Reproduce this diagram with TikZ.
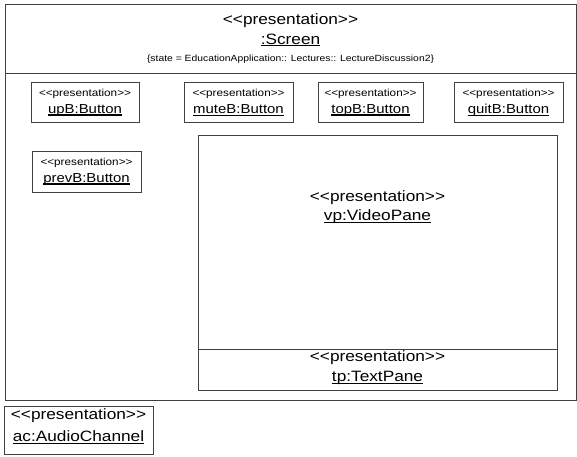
\documentclass[tikz,border=0pt]{standalone}
\usepackage{fontspec}
% Arial-width sans, slightly widened, with no << >> ligatures
\setmainfont[Ligatures=TeXOff,FakeStretch=1.15]{Liberation Sans}
% underline with a slightly heavier rule than \underline
\newcommand\myul[1]{\setbox0\hbox{#1}\rlap{\rule[-2.4pt]{\wd0}{1.1pt}}\box0}
\begin{document}
\begin{tikzpicture}[x=1pt,y=-1pt,
  frame/.style={draw=black!75,line width=1pt,inner sep=0pt,outer sep=0pt,anchor=north west},
  bigtxt/.style={font=\fontsize{15}{17}\selectfont,inner sep=0pt,text=black},
  smalltxt/.style={font=\fontsize{9}{11}\selectfont,inner sep=0pt,text=black},
  btntxt/.style={font=\fontsize{10.2}{12}\selectfont,inner sep=0pt,text=black},
  btnname/.style={font=\fontsize{13}{15}\selectfont,inner sep=0pt,text=black}]
\useasboundingbox (0,0) rectangle (577,456);

% outer screen object with its header compartment
\node[frame,minimum width=571pt,minimum height=396pt] (screen) at (5,4) {};
\draw[black!75,line width=1pt] ([yshift=-69pt]screen.north west) -- ([yshift=-69pt]screen.north east);
\node[bigtxt] (scrst) at (290.5,20.5) {<<presentation>>};
\node[bigtxt] (scrnm) at (290.5,40) {\myul{:Screen}};
\node[smalltxt] (scrstate) at (290.5,59) {\{state = EducationApplication:: Lectures:: LectureDiscussion2\}};

% buttons
\node[frame,minimum width=108pt,minimum height=40pt] (upB) at (31,82) {};
\node[btntxt] (upBst) at (85,93.5) {<<presentation>>};
\node[btnname] (upBnm) at (85,110) {\myul{upB:Button}};

\node[frame,minimum width=109pt,minimum height=40pt] (muteB) at (184,82) {};
\node[btntxt] (muteBst) at (238.5,93.5) {<<presentation>>};
\node[btnname] (muteBnm) at (238.5,110) {\myul{muteB:Button}};

\node[frame,minimum width=105pt,minimum height=40pt] (topB) at (318,82) {};
\node[btntxt] (topBst) at (370.5,93.5) {<<presentation>>};
\node[btnname] (topBnm) at (370.5,110) {\myul{topB:Button}};

\node[frame,minimum width=109pt,minimum height=40pt] (quitB) at (454,82) {};
\node[btntxt] (quitBst) at (508.5,93.5) {<<presentation>>};
\node[btnname] (quitBnm) at (508.5,110) {\myul{quitB:Button}};

\node[frame,minimum width=109pt,minimum height=41pt] (prevB) at (32,151) {};
\node[btntxt] (prevBst) at (86.5,162.5) {<<presentation>>};
\node[btnname] (prevBnm) at (86.5,179) {\myul{prevB:Button}};

% video pane with the text pane compartment
\node[frame,minimum width=359pt,minimum height=255pt] (vp) at (198,135) {};
\draw[black!75,line width=1pt] ([yshift=-214pt]vp.north west) -- ([yshift=-214pt]vp.north east);
\node[bigtxt] (vpst) at (377.5,198) {<<presentation>>};
\node[bigtxt] (vpnm) at (377.5,217) {\myul{vp:VideoPane}};
\node[bigtxt] (tpst) at (377.5,358) {<<presentation>>};
\node[bigtxt] (tpnm) at (377.5,378) {\myul{tp:TextPane}};

% audio channel
\node[frame,minimum width=149pt,minimum height=48pt] (ac) at (4,406) {};
\node[bigtxt] (acst) at (78.5,416) {<<presentation>>};
\node[bigtxt] (acnm) at (78.5,437) {\myul{ac:AudioChannel}};
\end{tikzpicture}
\end{document}
